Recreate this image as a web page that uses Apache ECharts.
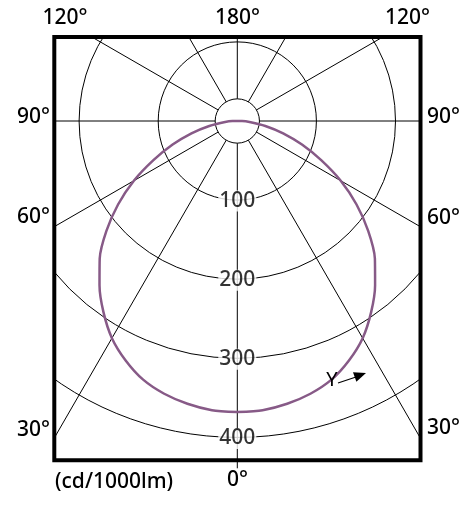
<!DOCTYPE html>
<html>
<head>
<meta charset="utf-8">
<script src="https://cdn.jsdelivr.net/npm/echarts@6/dist/echarts.min.js"></script>
<style>
html,body{margin:0;padding:0;background:#fff;}
#chart{width:475px;height:520px;}
</style>
</head>
<body>
<div id="chart"></div>
<script>
// ---- data ----
const ringTicks = [100, 200, 300, 400];
const radiusMax = 500;
const innerRing = 28;
const gammaAngles = [0,5,10,15,20,25,30,35,40,45,50,55,60,65,70,75,80,85,90,
  95,100,105,110,115,120,125,130,135,140,145,150,155,160,165,170,175,180];
// intensity (cd/1000lm), one half-plane each side of the nadir
const intensityLeft  = [368,367,363,357,348,334,317,295,271,246,216,184,151,117,87,60,36,17,6,
  0,0,0,0,0,0,0,0,0,0,0,0,0,0,0,0,0,0];
const intensityRight = [368,367,363,357,348,334,317,295,271,246,216,184,151,117,87,60,36,17,6,
  0,0,0,0,0,0,0,0,0,0,0,0,0,0,0,0,0,0];
const angleLabels = ['120°','180°','120°','90°','90°','60°','60°','30°','30°','0°'];
const unitLabel = '(cd/1000lm)';

const FONT = 'Noto Sans';
const curveData = [];
for (let i = 0; i < gammaAngles.length; i++) curveData.push([intensityLeft[i], gammaAngles[i]]);
for (let i = gammaAngles.length - 1; i >= 0; i--) curveData.push([intensityRight[i], 360 - gammaAngles[i]]);

const chart = echarts.init(document.getElementById('chart'), null, {renderer: 'canvas'});
const CX = 237.3, CY = 121, R = 395.5;
chart.setOption({
  animation: false,
  backgroundColor: '#fff',
  polar: { center: [CX, CY], radius: [0, R] },
  angleAxis: {
    type: 'value', min: 0, max: 360, interval: 30, startAngle: 270, clockwise: true,
    axisLine: {show: false}, axisTick: {show: false}, axisLabel: {show: false},
    splitLine: {show: true, lineStyle: {color: '#000', width: 1}}
  },
  radiusAxis: {
    type: 'value', min: 0, max: radiusMax, interval: 100,
    axisLine: {show: false}, axisTick: {show: false}, axisLabel: {show: false},
    splitLine: {show: true, lineStyle: {color: '#000', width: 1}}
  },
  series: [
    {
      type: 'line', coordinateSystem: 'polar', data: curveData, symbol: 'none',
      clip: false, smooth: 0.22, z: 5,
      lineStyle: {color: '#875a87', width: 2.5}
    },
    {
      type: 'scatter', coordinateSystem: 'polar', symbolSize: 0.1, z: 4,
      data: ringTicks.map(v => [v, 0]),
      label: {
        show: true, position: 'inside', formatter: p => String(p.value[0]),
        fontFamily: FONT, fontSize: 21, color: '#000', fontWeight: 500,
        backgroundColor: '#fff', padding: [0, 1], offset: [0, 1]
      }
    }
  ]
});

const c0 = chart.convertToPixel({polarIndex: 0}, [0, 0]) || [CX, CY];
const c1 = chart.convertToPixel({polarIndex: 0}, [innerRing, 0]) || [CX, CY + innerRing * R / radiusMax];
const innerR = Math.hypot(c1[0] - c0[0], c1[1] - c0[1]);

const BL = 54.3, BR = 420.5, BT = 37, BB = 460.3;
const txt = (s, x, y, align) => ({
  type: 'text', z: 102, x: x, y: y,
  style: {text: s, fill: '#000', font: '500 21px "' + FONT + '"', textAlign: align || 'center', textVerticalAlign: 'middle'}
});
chart.setOption({
  graphic: [
    {type: 'circle', z: 1, shape: {cx: c0[0], cy: c0[1], r: innerR}, style: {fill: '#fff', stroke: '#000', lineWidth: 1}},
    {type: 'rect', z: 100, shape: {x: 0, y: 0, width: 475, height: BT}, style: {fill: '#fff'}},
    {type: 'rect', z: 100, shape: {x: 0, y: BB, width: 475, height: 520 - BB}, style: {fill: '#fff'}},
    {type: 'rect', z: 100, shape: {x: 0, y: 0, width: BL, height: 520}, style: {fill: '#fff'}},
    {type: 'rect', z: 100, shape: {x: BR, y: 0, width: 475 - BR, height: 520}, style: {fill: '#fff'}},
    {type: 'line', z: 101, shape: {x1: c0[0], y1: BB, x2: c0[0], y2: BB + 8}, style: {stroke: '#000', lineWidth: 1}},
    {type: 'rect', z: 101, shape: {x: BL, y: BT, width: BR - BL, height: BB - BT}, style: {fill: null, stroke: '#000', lineWidth: 4}},
    txt(angleLabels[0], 65, 18), txt(angleLabels[1], 237.5, 18), txt(angleLabels[2], 407.5, 18),
    txt(angleLabels[3], 33.5, 117), txt(angleLabels[4], 443.5, 117),
    txt(angleLabels[5], 33.5, 217), txt(angleLabels[6], 443.5, 218),
    txt(angleLabels[7], 33.5, 430), txt(angleLabels[8], 443.5, 428),
    txt(angleLabels[9], 237.5, 480),
    txt(unitLabel, 55, 482, 'left'),
    {type: 'text', z: 102, x: 332, y: 380, style: {text: 'Y', fill: '#000', font: '20px "' + FONT + '"', textAlign: 'center', textVerticalAlign: 'middle'}},
    {type: 'line', z: 102, shape: {x1: 338, y1: 383, x2: 356, y2: 377}, style: {stroke: '#000', lineWidth: 1.2}},
    {type: 'polygon', z: 102, shape: {points: [[366, 373], [353, 372.3], [356.4, 381.7]]}, style: {fill: '#000'}}
  ]
});
</script>
</body>
</html>
